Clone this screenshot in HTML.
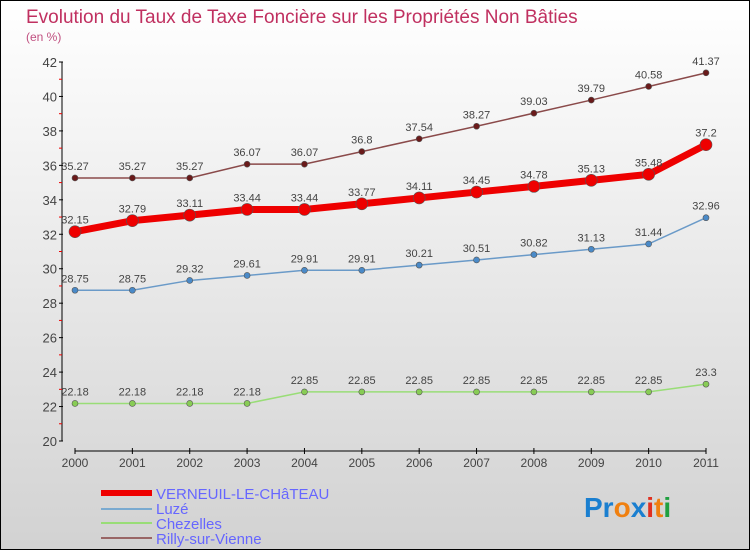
<!DOCTYPE html>
<html><head><meta charset="utf-8"><style>
body{margin:0}
#c{width:748px;height:548px;border:1px solid #000;background:linear-gradient(#fff,#d2d2d2);position:relative;overflow:hidden;font-family:"Liberation Sans",sans-serif}
</style></head><body>
<div id="c">
<svg id="s" width="748" height="548" style="position:absolute;left:0;top:0">
<text x="25" y="22" font-size="19" fill="#c03060">Evolution du Taux de Taxe Foncière sur les Propriétés Non Bâties</text>
<text x="25" y="40" font-size="12" fill="#c05080">(en %)</text>
<g id="legend">
<line x1="100" y1="492" x2="151" y2="492" stroke="#ee0000" stroke-width="6"/>
<text x="155" y="498" font-size="15" fill="#6666ff">VERNEUIL-LE-CHâTEAU</text>
<line x1="100" y1="508" x2="151" y2="508" stroke="#7aaad0" stroke-width="2"/>
<text x="155" y="513" font-size="15" fill="#6666ff">Luzé</text>
<line x1="100" y1="522" x2="151" y2="522" stroke="#99dd77" stroke-width="2"/>
<text x="155" y="528" font-size="15" fill="#6666ff">Chezelles</text>
<line x1="100" y1="537" x2="151" y2="537" stroke="#996666" stroke-width="2"/>
<text x="155" y="543" font-size="15" fill="#6666ff">Rilly-sur-Vienne</text>
</g>
<text x="583" y="516" font-size="28" font-weight="bold"><tspan fill="#1a7fd0">Pr</tspan><tspan fill="#f08010">o</tspan><tspan fill="#1a7fd0">x</tspan><tspan fill="#e03020">i</tspan><tspan fill="#f08010">t</tspan><tspan fill="#20a040">i</tspan></text>
</svg>
</div>
<script>
const years=["2000","2001","2002","2003","2004","2005","2006","2007","2008","2009","2010","2011"];
const yTicks=[20,22,24,26,28,30,32,34,36,38,40,42];
const verneuil=[32.15,32.79,33.11,33.44,33.44,33.77,34.11,34.45,34.78,35.13,35.48,37.2];
const luze=[28.75,28.75,29.32,29.61,29.91,29.91,30.21,30.51,30.82,31.13,31.44,32.96];
const chezelles=[22.18,22.18,22.18,22.18,22.85,22.85,22.85,22.85,22.85,22.85,22.85,23.3];
const rilly=[35.27,35.27,35.27,36.07,36.07,36.8,37.54,38.27,39.03,39.79,40.58,41.37];
const NS="http://www.w3.org/2000/svg";
const s=document.getElementById('s');
function X(i){return 74+i*(631/11);}
function Y(v){return 440-(v-20)*(379/22);}
function mk(t,a){const e=document.createElementNS(NS,t);for(const k in a)e.setAttribute(k,a[k]);s.appendChild(e);return e;}
// axes
let ya=mk('line',{x1:61,y1:Y(42),x2:61,y2:Y(20),stroke:'#000'});


yTicks.forEach(v=>{
 let t=mk('line',{x1:58,y1:Y(v),x2:62,y2:Y(v),stroke:'#000'});
 
 
 let m=mk('line',{x1:58,y1:Y(v+1),x2:61,y2:Y(v+1),stroke:'#e00'});
 if(v===42)m.remove();
 
 
 let l=mk('text',{x:56,y:Y(v)+5,'text-anchor':'end','font-size':13,fill:'#444'});
 l.textContent=v;
 
 
});
let xa=mk('line',{x1:X(0),y1:450,x2:X(11),y2:450,stroke:'#000'});


years.forEach((y,i)=>{
 let t=mk('line',{x1:X(i),y1:447,x2:X(i),y2:453,stroke:'#000'});
 
 
 let l=mk('text',{x:X(i),y:466,'text-anchor':'middle','font-size':12,fill:'#444'});
 l.textContent=y;
 
 
});
function series(d,col,dot,w,r,name){
 const pts=d.map((v,i)=>X(i)+','+Y(v)).join(' ');
 let p=mk('polyline',{points:pts,fill:'none',stroke:col,'stroke-width':w});
 
 
 d.forEach((v,i)=>{
  let c=mk('circle',{cx:X(i),cy:Y(v),r:r,fill:dot,stroke:'#555','stroke-width':0.6});
  
  
  let l=mk('text',{x:X(i),y:Y(v)-8,'text-anchor':'middle','font-size':11,fill:'#444'});
  l.textContent=v;
  
  
 });
}
series(rilly,'#8a4a4a','#6a1a1a',1.5,3,'rilly');
series(luze,'#6a9ac8','#4a8ac8',1.5,3,'luze');
series(chezelles,'#99dd77','#88cc55',1.5,3,'chezelles');
series(verneuil,'#ee0000','#ee0000',7,6,'verneuil');
</script>
</body></html>
